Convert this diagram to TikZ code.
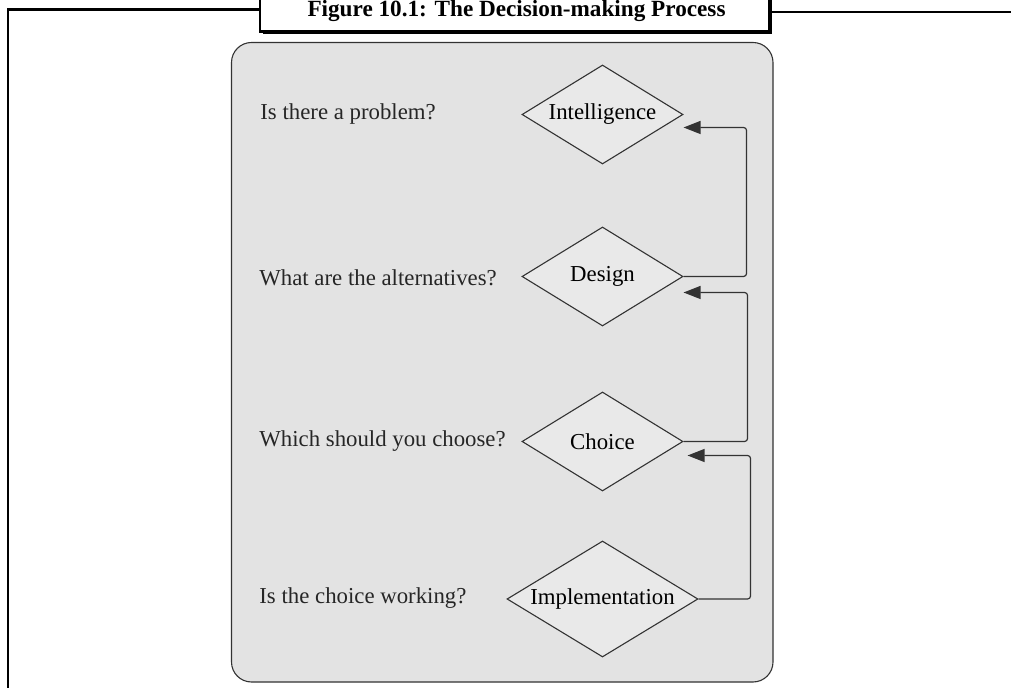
\documentclass[tikz,border=0pt]{standalone}
\usepackage{fontspec}
\setmainfont{Liberation Serif}
\usetikzlibrary{shapes.geometric,arrows.meta,calc}
\definecolor{panel}{RGB}{227,227,227}
\definecolor{diafill}{RGB}{233,233,233}
\definecolor{ink}{RGB}{51,51,51}
\begin{document}
\begin{tikzpicture}[x=0.5pt,y=-0.5pt,
  dia/.style={diamond, aspect=1.63, draw=ink, fill=diafill, line width=0.55pt, inner sep=0pt,
    minimum width=80.5pt, minimum height=49.5pt, font=\fontsize{11.4}{13}\selectfont},
  lbl/.style={anchor=west, inner sep=0pt, font=\fontsize{11.4}{13}\selectfont, text=black!85},
  arr/.style={draw=ink, line width=0.6pt, rounded corners=1.5pt,
    -{Triangle[length=8.5pt,width=6.5pt]}},
  frame/.style={draw=black, line width=1.1pt},
]
\useasboundingbox (0,0) rectangle (1011,688);
% outer frame
\draw[frame] (262,9.5) -- (8,9.5) -- (8,700);
\draw[frame] (768,12) -- (1020,12);
% title box with shadow
\fill[black] (263,-5) rectangle (772,34);
\draw[frame, fill=white] (260,-5) rectangle (769,31.5);
\node[font=\bfseries\fontsize{11.6}{13}\selectfont, inner sep=0pt, anchor=base] (title) at (516.5,17)
  {Figure 10.1: The Decision-making Process};
% panel
\draw[draw=ink, line width=0.55pt, fill=panel, rounded corners=10pt] (231.5,42.5) rectangle (773,682);
% diamonds
\node[dia] (intel) at (602.5,114.5) {Intelligence};
\node[dia] (design) at (602.5,276.5) {Design};
\node[dia] (choice) at (602.5,441.5) {Choice};
\node[dia, minimum width=95.5pt, minimum height=58pt] (impl) at (602.5,599) {Implementation};
% questions
\node[lbl] (q1) at (260,114) {Is there a problem?};
\node[lbl] (q2) at (259,278) {What are the alternatives?};
\node[lbl] (q3) at (259,441) {Which should you choose?};
\node[lbl] (q4) at (259,598) {Is the choice working?};
% feedback arrows
\coordinate (t1) at ($(intel.east)+(0,13)$);
\coordinate (t2) at ($(design.east)+(0,16)$);
\coordinate (t3) at ($(choice.east)+(4,14)$);
\draw[arr] (design.east) -- ++(63,0) |- (t1);
\draw[arr] (choice.east) -- ++(64,0) |- (t2);
\draw[arr] (impl.east) -- ++(52,0) |- (t3);
\end{tikzpicture}
\end{document}
